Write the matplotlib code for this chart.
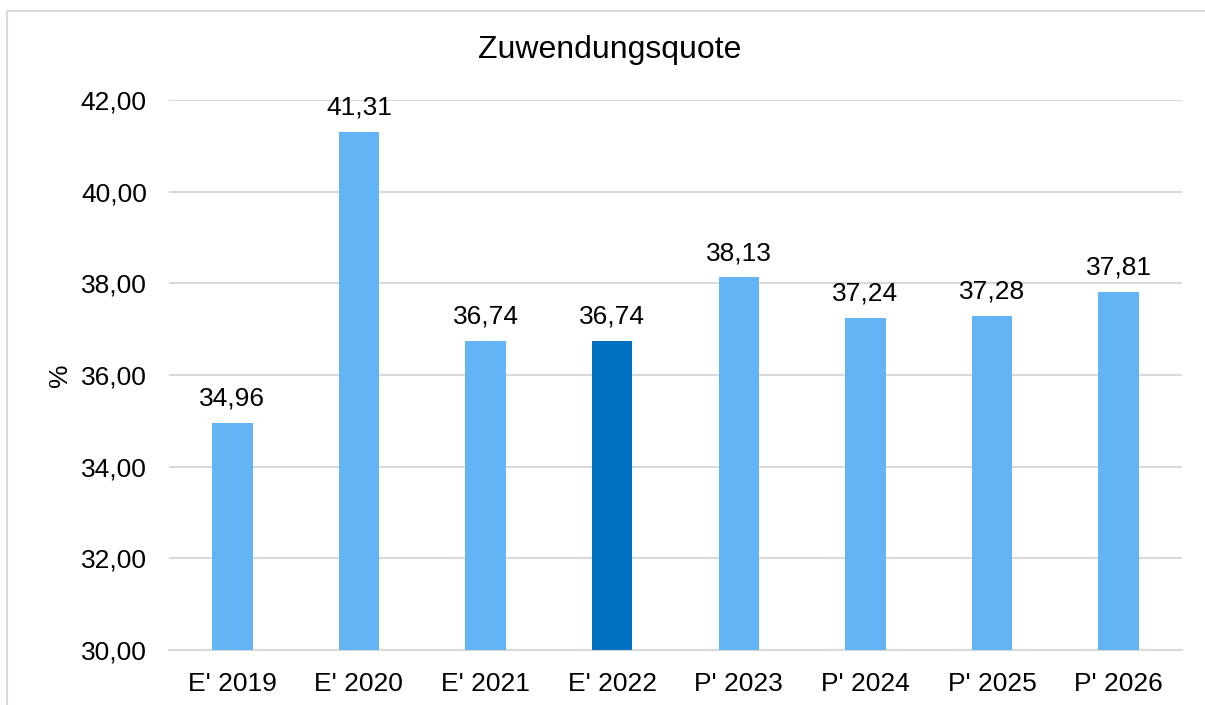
import matplotlib.pyplot as plt
from matplotlib.lines import Line2D

plt.rcParams['font.family'] = ['Liberation Sans', 'DejaVu Sans']

categories = ["E' 2019", "E' 2020", "E' 2021", "E' 2022",
              "P' 2023", "P' 2024", "P' 2025", "P' 2026"]
values = [34.96, 41.31, 36.74, 36.74, 38.13, 37.24, 37.28, 37.81]
highlight = "E' 2022"

light = '#63B4F5'
dark = '#0070C0'
colors = [dark if c == highlight else light for c in categories]

W, H = 1205, 705
fig = plt.figure(figsize=(W / 100, H / 100), dpi=100)
ax = fig.add_axes([169 / W, 1 - 650 / H, (1182 - 169) / W, (650 - 100) / H])

# chart frame (left and top edges only are visible)
fx, fy = 7.5 / W, 1 - 10.5 / H
fig.lines.append(Line2D([fx, fx, 1.0], [0.0, fy, fy], transform=fig.transFigure,
                        color='#D9D9D9', linewidth=1.5))

x = range(len(categories))
bars = ax.bar(x, values, width=0.32, color=colors, zorder=3)
for b, v in zip(bars, values):
    ax.text(b.get_x() + b.get_width() / 2, v + 0.27, f"{v:.2f}".replace('.', ','),
            ha='center', va='bottom', fontsize=19, color='#000000')

ax.set_xlim(-0.5, len(categories) - 0.5)
ax.set_ylim(30, 42)
ax.set_yticks([30, 32, 34, 36, 38, 40, 42])
ax.set_yticklabels([f"{t:.2f}".replace('.', ',') for t in ax.get_yticks()])
ax.set_xticks(list(x))
ax.set_xticklabels(categories)
ax.tick_params(axis='both', length=0, labelsize=19, colors='#000000')
ax.tick_params(axis='y', pad=16)
ax.tick_params(axis='x', pad=16)
ax.grid(axis='y', color='#D9D9D9', linewidth=1.5, zorder=0)
for s in ['top', 'right', 'left']:
    ax.spines[s].set_visible(False)
ax.spines['bottom'].set_color('#D9D9D9')
ax.spines['bottom'].set_linewidth(1.5)

ax.set_ylabel('%', fontsize=19, labelpad=6)
fig.text(610 / W, 1 - 50 / H, 'Zuwendungsquote', ha='center', va='center', fontsize=23)

fig.savefig('out.png', dpi=100)
